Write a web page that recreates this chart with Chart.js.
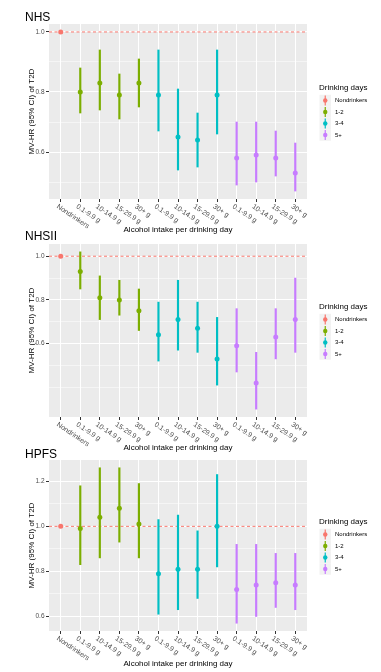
<!DOCTYPE html>
<html><head><meta charset="utf-8">
<script src="https://cdn.jsdelivr.net/npm/chart.js@4.4.1/dist/chart.umd.min.js"></script>
<style>
html,body{margin:0;padding:0;background:#fff;width:381px;height:672px;overflow:hidden;position:relative}
canvas{position:absolute;left:0}
</style></head><body>
<canvas id="p1" width="381" height="240" style="top:0px"></canvas>
<canvas id="p2" width="381" height="230" style="top:226px"></canvas>
<canvas id="p3" width="381" height="230" style="top:442px"></canvas>
<script>
// ---------- data ----------
const categories = ['Nondrinkers','0.1-9.9 g','10-14.9 g','15-29.9 g','30+ g','0.1-9.9 g','10-14.9 g','15-29.9 g','30+ g','0.1-9.9 g','10-14.9 g','15-29.9 g','30+ g'];
const drinkingDays = ['Nondrinkers','1-2','1-2','1-2','1-2','3-4','3-4','3-4','3-4','5+','5+','5+','5+'];
const groupNames = ['Nondrinkers','1-2','3-4','5+'];
const groupColors = ['#F8766D','#7CAE00','#00BFC4','#C77CFF'];
const referenceHR = 1.0;

const nhsHR    = [1.00, 0.80, 0.83, 0.79, 0.83, 0.79, 0.65, 0.64, 0.79, 0.58, 0.59, 0.58, 0.53];
const nhsLower = [1.00, 0.73, 0.74, 0.71, 0.75, 0.67, 0.54, 0.55, 0.66, 0.49, 0.50, 0.52, 0.47];
const nhsUpper = [1.00, 0.88, 0.94, 0.86, 0.91, 0.94, 0.81, 0.73, 0.94, 0.70, 0.70, 0.67, 0.63];
const nhsMajorTicks = [0.6, 0.8, 1.0];
const nhsMinorTicks = [0.5, 0.7, 0.9];

const nhs2HR    = [1.00, 0.93, 0.81, 0.80, 0.75, 0.64, 0.71, 0.67, 0.53, 0.59, 0.42, 0.63, 0.71];
const nhs2Lower = [1.00, 0.85, 0.71, 0.73, 0.66, 0.52, 0.57, 0.56, 0.41, 0.47, 0.30, 0.53, 0.56];
const nhs2Upper = [1.00, 1.02, 0.91, 0.89, 0.85, 0.79, 0.89, 0.79, 0.72, 0.76, 0.56, 0.76, 0.90];
const nhs2MajorTicks = [0.6, 0.8, 1.0];
const nhs2MinorTicks = [0.4, 0.5, 0.7, 0.9];

const hpfsHR    = [1.00, 0.99, 1.04, 1.08, 1.01, 0.79, 0.81, 0.81, 1.00, 0.72, 0.74, 0.75, 0.74];
const hpfsLower = [1.00, 0.83, 0.86, 0.93, 0.86, 0.61, 0.63, 0.68, 0.82, 0.57, 0.60, 0.64, 0.63];
const hpfsUpper = [1.00, 1.18, 1.26, 1.26, 1.19, 1.03, 1.05, 0.98, 1.23, 0.92, 0.92, 0.88, 0.88];
const hpfsMajorTicks = [0.6, 0.8, 1.0, 1.2];
const hpfsMinorTicks = [0.7, 0.9, 1.1];

// ---------- drawing ----------
const FONT = '"Liberation Sans", Arial, Helvetica, sans-serif';
Chart.defaults.font.family = FONT;

function makePanel(id, title, hr, lo, hi, majors, minors, L) {
  const isMajor = v => majors.some(m => Math.abs(m - v) < 1e-9);
  const datasets = [];
  groupNames.forEach((g, gi) => {
    const idx = drinkingDays.map((d, i) => d === g ? i : -1).filter(i => i >= 0);
    datasets.push({
      type: 'bar', label: g + ' CI', isCI: true,
      data: idx.map(i => ({x: i, y: [lo[i], hi[i]]})),
      backgroundColor: groupColors[gi], borderWidth: 0,
      barThickness: 1.5, grouped: false, order: 2
    });
    datasets.push({
      type: 'line', label: g, showLine: false,
      data: idx.map(i => ({x: i, y: hr[i]})),
      pointRadius: 2.5, pointBackgroundColor: groupColors[gi], pointBorderColor: groupColors[gi],
      pointBorderWidth: 0, borderColor: groupColors[gi], backgroundColor: groupColors[gi], order: 1
    });
  });
  const lowAll = Math.min(...lo), highAll = Math.max(...hi);
  const span = highAll - lowAll;
  const yMin = lowAll - 0.05 * span, yMax = highAll + 0.05 * span;

  const deco = {
    id: 'deco',
    beforeDraw(chart) {
      const {ctx, chartArea: a} = chart;
      ctx.save();
      ctx.fillStyle = '#EBEBEB';
      ctx.fillRect(a.left, a.top, a.right - a.left, a.bottom - a.top);
      ctx.restore();
    },
    beforeDatasetsDraw(chart) {
      const {ctx, chartArea: a} = chart;
      const y = chart.scales.y.getPixelForValue(referenceHR);
      ctx.save();
      ctx.strokeStyle = groupColors[0];
      ctx.lineWidth = 1;
      ctx.setLineDash([3, 2.5]);
      ctx.beginPath(); ctx.moveTo(a.left, y); ctx.lineTo(a.right, y); ctx.stroke();
      ctx.restore();
    },
    afterDraw(chart) {
      const {ctx, chartArea: a} = chart;
      const xs = chart.scales.x;
      ctx.save();
      // panel title
      ctx.fillStyle = '#000';
      ctx.font = '12px ' + FONT;
      ctx.textAlign = 'left'; ctx.textBaseline = 'middle';
      ctx.fillText(title, 25, L.titleY);
      // rotated x tick labels
      ctx.fillStyle = '#4D4D4D';
      ctx.font = '7px ' + FONT;
      ctx.textBaseline = 'top';
      categories.forEach((c, i) => {
        const x = xs.getPixelForValue(i);
        ctx.save();
        ctx.translate(x - 1.5, a.bottom + 4);
        ctx.rotate(34 * Math.PI / 180);
        ctx.fillText(c, 0, 0);
        ctx.restore();
      });
      // legend
      const cy = (a.top + a.bottom) / 2;
      ctx.fillStyle = '#000';
      ctx.font = '8px ' + FONT;
      ctx.textBaseline = 'middle';
      ctx.fillText('Drinking days', 319, cy - 24);
      const items = chart.data.datasets.filter(d => !d.isCI);
      items.forEach((d, i) => {
        const yc = cy - 11 + i * 11.5;
        ctx.fillStyle = '#F2F2F2';
        ctx.fillRect(319.5, yc - 5.75, 11.5, 11.5);
        ctx.strokeStyle = d.pointBackgroundColor;
        ctx.lineWidth = 1.2;
        ctx.beginPath(); ctx.moveTo(325.25, yc - 5); ctx.lineTo(325.25, yc + 5); ctx.stroke();
        ctx.fillStyle = d.pointBackgroundColor;
        ctx.beginPath(); ctx.arc(325.25, yc, 2.2, 0, Math.PI * 2); ctx.fill();
        ctx.fillStyle = '#000';
        ctx.font = '6px ' + FONT;
        ctx.fillText(d.label, 335, yc);
      });
      ctx.restore();
    }
  };

  return new Chart(document.getElementById(id), {
    type: 'bar',
    data: {datasets},
    plugins: [deco],
    options: {
      responsive: false, animation: false, devicePixelRatio: 1,
      layout: {padding: {top: L.padTop, right: 74, left: 0, bottom: 0}},
      plugins: {legend: {display: false}, tooltip: {enabled: false}, title: {display: false}},
      scales: {
        x: {
          type: 'linear', min: -0.6, max: categories.length - 0.4, offset: false,
          afterBuildTicks: s => { s.ticks = categories.map((c, i) => ({value: i})); },
          afterFit: s => { s.height = L.xAxisH; },
          ticks: {display: false, autoSkip: false},
          grid: {offset: false, color: '#FFFFFF', lineWidth: 1, drawTicks: true, tickLength: 3, tickColor: '#333333', tickWidth: 1},
          border: {display: false},
          title: {display: true, text: 'Alcohol intake per drinking day', color: '#000', font: {size: 8, family: FONT}, padding: {top: 0, bottom: L.xTitlePad}}
        },
        y: {
          type: 'linear', min: yMin, max: yMax,
          afterBuildTicks: s => { s.ticks = [...minors, ...majors].sort((a, b) => a - b).map(v => ({value: v})); },
          afterFit: s => { s.width = 49; },
          ticks: {autoSkip: false, color: '#4D4D4D', font: {size: 6.5, family: FONT}, padding: 1.5,
                  callback: v => isMajor(v) ? v.toFixed(1) : ''},
          grid: {color: '#FFFFFF', lineWidth: c => isMajor(c.tick.value) ? 1 : 0.5, drawTicks: true, tickLength: 3,
                 tickColor: c => isMajor(c.tick.value) ? '#333333' : 'rgba(0,0,0,0)', tickWidth: 1},
          border: {display: false},
          title: {display: true, text: 'MV-HR (95% CI) of T2D', color: '#000', font: {size: 8, family: FONT}, padding: {top: 27.2, bottom: 0}}
        }
      }
    }
  });
}

makePanel('p1', 'NHS', nhsHR, nhsLower, nhsUpper, nhsMajorTicks, nhsMinorTicks,
          {padTop: 24, xAxisH: 41, xTitlePad: 5.2, titleY: 18});
makePanel('p2', 'NHSII', nhs2HR, nhs2Lower, nhs2Upper, nhs2MajorTicks, nhs2MinorTicks,
          {padTop: 18, xAxisH: 39, xTitlePad: 3.2, titleY: 11});
makePanel('p3', 'HPFS', hpfsHR, hpfsLower, hpfsUpper, hpfsMajorTicks, hpfsMinorTicks,
          {padTop: 18, xAxisH: 41, xTitlePad: 3.2, titleY: 13});
</script>
</body></html>
